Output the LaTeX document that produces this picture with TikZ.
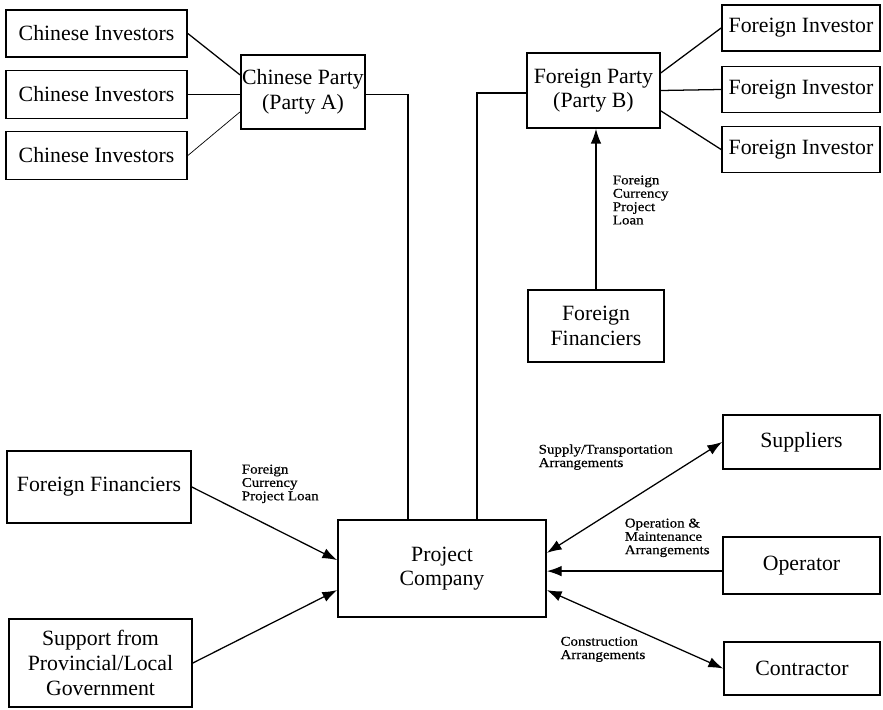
\documentclass[tikz,border=0pt]{standalone}
\usepackage{fontspec}
\setmainfont{Liberation Serif}
\newfontfamily\lblfont[FakeStretch=1.12,FakeBold=0.6]{Liberation Serif}
\usetikzlibrary{arrows.meta,positioning}
\tikzstyle{party} = [rectangle, draw, line width=1.2pt, align=center, inner sep=1pt, font=\fontsize{15.5}{17.5}\selectfont]
\tikzstyle{link} = [line width=0.9pt]
\tikzstyle{arrow} = [line width=0.9pt, -{Latex[length=10.5pt,width=7.5pt]}]
\tikzstyle{twoway} = [line width=0.9pt, {Latex[length=10.5pt,width=7.5pt]}-{Latex[length=10.5pt,width=7.5pt]}]
\tikzstyle{lbl} = [align=left, inner sep=1pt, font=\lblfont\fontsize{9.5}{9.5}\selectfont]

\begin{document}
\begin{tikzpicture}[x=0.025cm, y=-0.025cm]
\useasboundingbox (0,0) rectangle (883,710);

% Party A and its investors
\node[party, minimum width=4.525cm, minimum height=1.175cm] (ci1) at (96.5,33.5) {Chinese Investors};
\node[party, minimum width=4.525cm, minimum height=1.2cm] (ci2) at (96.5,94.5) {Chinese Investors};
\node[party, minimum width=4.525cm, minimum height=1.2cm] (ci3) at (96.5,155.5) {Chinese Investors};
\node[party, minimum width=3.1cm, minimum height=1.85cm] (cpa) at (303,92) {Chinese Party\\(Party A)};

% Party B and its investors
\node[party, minimum width=3.325cm, minimum height=1.875cm] (fpb) at (593.5,90.5) {Foreign Party\\(Party B)};
\node[party, minimum width=3.95cm, minimum height=1.15cm] (fi1) at (801,28) {Foreign Investor};
\node[party, minimum width=3.95cm, minimum height=1.15cm] (fi2) at (801,89.5) {Foreign Investor};
\node[party, minimum width=3.95cm, minimum height=1.15cm] (fi3) at (801,149.5) {Foreign Investor};
\node[party, minimum width=3.4cm, minimum height=1.8cm] (fft) at (596,326) {Foreign\\Financiers};

% project company and contracts
\node[party, minimum width=5.2cm, minimum height=2.425cm] (pc) at (442,568.5) {Project\\Company};
\node[party, minimum width=4.6cm, minimum height=1.8cm] (ffl) at (99,487) {Foreign Financiers};
\node[party, minimum width=4.575cm, minimum height=2.2cm] (gov) at (100.5,663) {Support from\\Provincial/Local\\Government};
\node[party, minimum width=3.925cm, minimum height=1.35cm] (spl) at (801.5,442) {Suppliers};
\node[party, minimum width=3.925cm, minimum height=1.425cm] (op) at (801.5,565.5) {Operator};
\node[party, minimum width=3.9cm, minimum height=1.325cm] (con) at (802,668.5) {Contractor};

\draw[link] (ci1.east) -- ([yshift=0.43cm]cpa.west);
\draw[link] (ci2.east) -- (ci2.east -| cpa.west);
\draw[line width=0.5pt] (ci3.east) -- ([yshift=-0.5cm]cpa.west);
\draw[link] ([yshift=-0.07cm]cpa.east) -| ([xshift=-0.85cm]pc.north);

\draw[link] ([yshift=0.44cm]fpb.east) -- (fi1.west);
\draw[link] (fpb.east) -- (fi2.west);
\draw[link] ([yshift=-0.51cm]fpb.east) -- (fi3.west);
\draw[link] ([yshift=-0.06cm]fpb.west) -| ([xshift=0.875cm]pc.north);
\draw[arrow] (fft.north) -- node[lbl, pos=0.556, right, xshift=0.37cm]{Foreign\\Currency\\Project\\Loan} (fft.north |- fpb.south);

\draw[arrow] (ffl.east) -- node[lbl, pos=0.33, anchor=south west, yshift=0.15cm]{Foreign\\Currency\\Project Loan} ([yshift=0.21cm]pc.west);
\draw[arrow] (gov.east) -- ([yshift=-0.54cm]pc.west);

\draw[twoway] ([yshift=0.39cm]pc.east) -- node[lbl, pos=0.73, anchor=south east]{Supply/Transportation\\Arrangements} (spl.west);
\draw[arrow] ([yshift=-0.14cm]op.west) -- node[lbl, pos=0.06, anchor=south east, yshift=0.3cm]{Operation \&\\Maintenance\\Arrangements} ([yshift=-0.14cm]op.west -| pc.east);
\draw[twoway] ([yshift=-0.54cm]pc.east) -- node[lbl, pos=0.57, anchor=north east]{Construction\\Arrangements} (con.west);
\end{tikzpicture}
\end{document}
